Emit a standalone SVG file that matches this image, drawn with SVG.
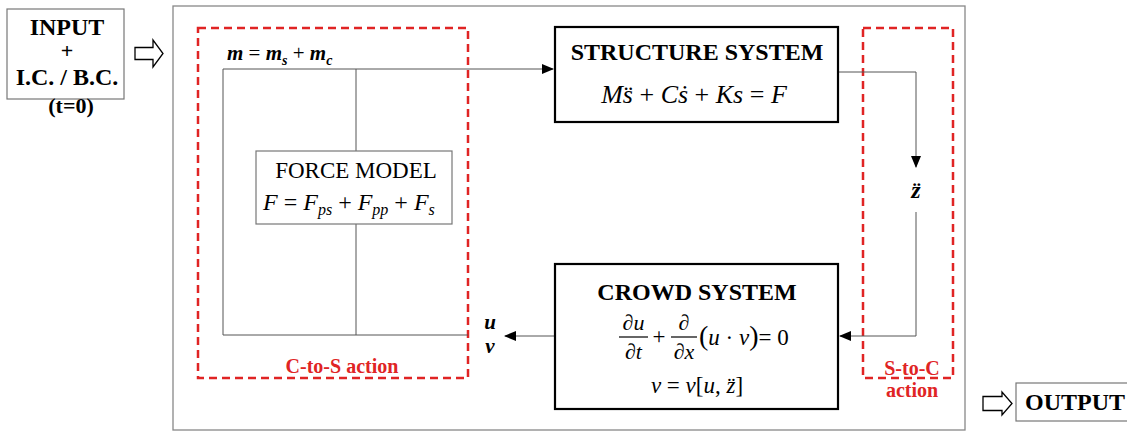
<svg xmlns="http://www.w3.org/2000/svg" width="1127" height="432" viewBox="0 0 1127 432" font-family="'Liberation Serif', 'DejaVu Serif', 'Noto Serif', serif">
<defs>
<marker id="ah" markerWidth="12" markerHeight="10" refX="11" refY="5" orient="auto" markerUnits="userSpaceOnUse">
<path d="M0,0 L12,5 L0,10 Z" fill="#000"/>
</marker>
<style>
text{font-family:'Liberation Serif','DejaVu Serif','Noto Serif',serif}
.serif{fill:#000}
.b{font-weight:bold}
.i{font-style:italic}
.red{fill:#e02424;font-weight:bold}
.dash{fill:none;stroke:#e02424;stroke-width:2.5;stroke-dasharray:8,5}
.thin{fill:none;stroke:#555;stroke-width:1}
.box{fill:#fff;stroke:#000;stroke-width:2.2}
.gbox{fill:#fff;stroke:#777;stroke-width:1.2}
.hollow{fill:#fff;stroke:#000;stroke-width:1.3}
</style>
</defs>
<rect width="1127" height="432" fill="#fff"/>

<g id="outer-frame">
<rect x="173" y="6" width="792" height="424" fill="none" stroke="#888" stroke-width="1.3"/>
</g>

<g id="input">
<rect x="7" y="9" width="117" height="90" class="gbox"/>
<text x="67" y="35" text-anchor="middle" class="serif b" font-size="24">INPUT</text>
<text x="67" y="58" text-anchor="middle" class="serif b" font-size="22">+</text>
<text x="67" y="85" text-anchor="middle" class="serif b" font-size="24">I.C. / B.C.</text>
<text x="71" y="113" text-anchor="middle" class="serif b" font-size="22">(t=0)</text>
</g>

<g id="input-arrow">
<path d="M135,47.5 H153 V40 L163,53.5 L153,67 V59.5 H135 Z" class="hollow"/>
</g>

<g id="c-to-s">
<rect x="198" y="28" width="270" height="350" class="dash"/>
<text x="342" y="373" text-anchor="middle" class="red" font-size="20">C-to-S action</text>
</g>

<g id="s-to-c">
<rect x="863" y="28" width="90" height="350" class="dash"/>
<text x="912" y="375" text-anchor="middle" class="red" font-size="20">S-to-C</text>
<text x="912" y="397" text-anchor="middle" class="red" font-size="20">action</text>
</g>

<g id="connectors">
<polyline points="223,335 223,69 553,69" class="thin" marker-end="url(#ah)"/>
<line x1="356" y1="69" x2="356" y2="151" class="thin"/>
<line x1="356" y1="224" x2="356" y2="335" class="thin"/>
<line x1="223" y1="335" x2="468" y2="335" class="thin"/>
<polyline points="839,72 916,72 916,167" class="thin" marker-end="url(#ah)"/>
<polyline points="916,212 916,336 840,336" class="thin" marker-end="url(#ah)"/>
<line x1="555" y1="336" x2="505" y2="336" class="thin" marker-end="url(#ah)"/>
</g>

<g id="mass-label">
<text x="227" y="60" class="serif b i" font-size="21">m<tspan font-weight="normal" font-style="normal"> = </tspan>m<tspan font-size="14" dy="5">s</tspan><tspan dy="-5" font-weight="normal" font-style="normal"> + </tspan>m<tspan font-size="14" dy="5">c</tspan></text>
</g>

<g id="structure-system">
<rect x="555" y="27" width="283" height="95" class="box"/>
<text x="697" y="60" text-anchor="middle" class="serif b" font-size="24">STRUCTURE SYSTEM</text>
<text x="694" y="103" text-anchor="middle" class="serif i" font-size="26">Ms̈ <tspan font-style="normal">+</tspan> Cṡ <tspan font-style="normal">+</tspan> Ks <tspan font-style="normal">=</tspan> F</text>
</g>

<g id="force-model">
<rect x="256" y="151" width="196" height="73" class="gbox"/>
<text x="356" y="178" text-anchor="middle" class="serif" font-size="23">FORCE MODEL</text>
<text x="263" y="210" class="serif i" font-size="24">F <tspan font-style="normal">=</tspan> F<tspan font-size="16" dy="5">ps</tspan><tspan dy="-5" font-style="normal"> + </tspan>F<tspan font-size="16" dy="5">pp</tspan><tspan dy="-5" font-style="normal"> + </tspan>F<tspan font-size="16" dy="5">s</tspan></text>
</g>

<g id="z-label">
<text x="916" y="198" text-anchor="middle" class="serif b i" font-size="24">z̈</text>
</g>

<g id="uv-label">
<text x="490" y="329" text-anchor="middle" class="serif b i" font-size="21">u</text>
<text x="490" y="353" text-anchor="middle" class="serif b i" font-size="21">v</text>
</g>

<g id="crowd-system">
<rect x="555" y="264" width="283" height="145" class="box"/>
<text x="697" y="300" text-anchor="middle" class="serif b" font-size="24">CROWD SYSTEM</text>
<text x="633.5" y="330" text-anchor="middle" class="serif i" font-size="22">∂u</text>
<line x1="619" y1="337" x2="648" y2="337" stroke="#000" stroke-width="1.2"/>
<text x="633.5" y="359" text-anchor="middle" class="serif i" font-size="22">∂t</text>
<text x="659" y="344" text-anchor="middle" class="serif" font-size="23">+</text>
<text x="684" y="330" text-anchor="middle" class="serif i" font-size="22">∂</text>
<line x1="671" y1="337" x2="697" y2="337" stroke="#000" stroke-width="1.2"/>
<text x="684" y="359" text-anchor="middle" class="serif i" font-size="22">∂x</text>
<text x="699" y="345" class="serif" font-size="23"><tspan font-size="28">(</tspan><tspan font-style="italic">u</tspan> · <tspan font-style="italic">v</tspan><tspan font-size="28">)</tspan>= 0</text>
<text x="697" y="393" text-anchor="middle" class="serif i" font-size="23">v <tspan font-style="normal">=</tspan> v<tspan font-style="normal">[</tspan>u<tspan font-style="normal">,</tspan> z̈<tspan font-style="normal">]</tspan></text>
</g>

<g id="output-arrow">
<path d="M983,396.5 H1002 V392 L1012,403.5 L1002,415 V410.5 H983 Z" class="hollow"/>
</g>

<g id="output">
<rect x="1016" y="383" width="120" height="38" class="gbox"/>
<text x="1025" y="410" class="serif b" font-size="24">OUTPUT</text>
</g>
</svg>
